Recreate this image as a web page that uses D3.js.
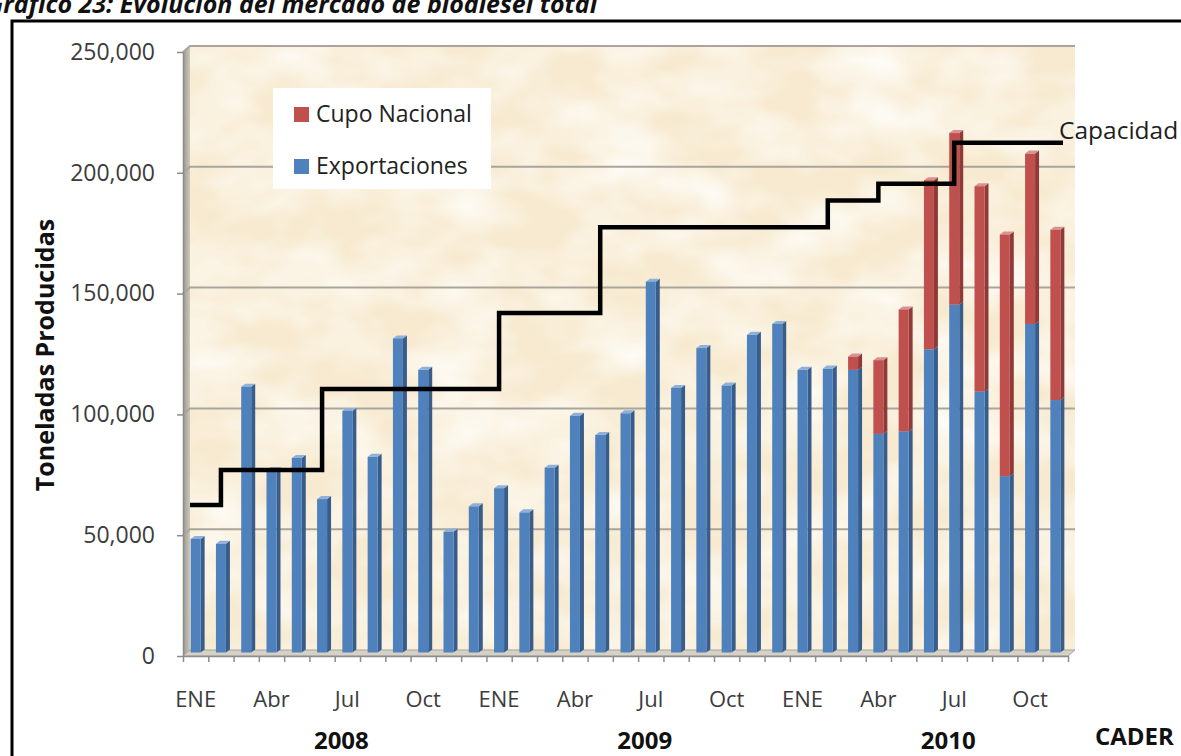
<!DOCTYPE html>
<html>
<head>
<meta charset="utf-8">
<script src="https://cdn.jsdelivr.net/npm/d3@7"></script>
<style>
  body { margin: 0; background: #ffffff; }
  svg { display: block; font-family: "Open Sans", sans-serif; }
</style>
</head>
<body>
<svg id="chart" width="1181" height="756"></svg>
<script>
// Evolucion del mercado de biodiesel total

// categories: Jan 2008 .. Nov 2010 (35 months)
const years = ['2008', '2009', '2010'];
const monthNames = ['ENE', 'Feb', 'Mar', 'Abr', 'May', 'Jun', 'Jul', 'Ago', 'Sep', 'Oct', 'Nov', 'Dic'];
const categories = years.flatMap(yr => monthNames.map(m => m + ' ' + yr)).slice(0, 35);

// tonnes
const exportaciones = [47000, 45000, 110000, 75500, 80500, 63500, 100000, 81000, 130000, 117000, 50000, 60500,
                       68000, 58000, 76500, 98000, 90000, 99000, 153500, 109500, 126000, 110500, 131500, 136000,
                       117000, 117500, 117000, 90500, 91500, 125500, 144000, 108000, 73000, 136000, 104500];
const cupoNacional  = [0, 0, 0, 0, 0, 0, 0, 0, 0, 0, 0, 0,
                       0, 0, 0, 0, 0, 0, 0, 0, 0, 0, 0, 0,
                       0, 0, 5500, 30500, 50500, 70000, 71000, 85000, 100000, 70500, 70500];
const capacidad     = [60000, 74500, 74500, 74500, 74500, 108000, 108000, 108000, 108000, 108000, 108000, 108000,
                       139500, 139500, 139500, 139500, 175000, 175000, 175000, 175000, 175000, 175000, 175000, 175000,
                       175000, 186000, 186000, 193000, 193000, 193000, 210000, 210000, 210000, 210000, 210000];

const yTicks = [0, 50000, 100000, 150000, 200000, 250000];
const monthTicks = ['ENE', 'Abr', 'Jul', 'Oct'];

// layout
const xLeft = 183, xRight = 1068, yTop = 52, yBottom = 656;
const back = { dx: 7, dy: -6 };      // back wall offset (3d look)
const barOff = { dx: 0, dy: -3.5 };  // bars sit a bit into the depth
const depth = { dx: 4, dy: -3 };     // bar thickness
const frontW = 10;

const colours = { blue: '#4F81BD', blueSide: '#385D8A', blueTop: '#8FB0DA',
                  red: '#C0504D', redSide: '#8E3A38', redTop: '#DA918F',
                  grid: '#A9A59C', axis: '#8C8C8C', text: '#3C3C3C' };

const svg = d3.select('#chart');
const defs = svg.append('defs');

// parchment texture for the back wall
const parch = defs.append('filter').attr('id', 'parch')
  .attr('x', 0).attr('y', 0).attr('width', '100%').attr('height', '100%');
parch.append('feTurbulence').attr('type', 'fractalNoise').attr('baseFrequency', '0.012 0.02')
  .attr('numOctaves', 3).attr('seed', 7).attr('result', 'noise');
parch.append('feColorMatrix').attr('in', 'noise').attr('type', 'matrix')
  .attr('values', '0 0 0 0 0.995  0 0 0 0 0.98  0 0 0 0 0.94  1.8 0 0 0 -0.6');

const wallGrad = defs.append('linearGradient').attr('id', 'wallGrad')
  .attr('x1', 0).attr('x2', 1).attr('y1', 0).attr('y2', 0);
wallGrad.append('stop').attr('offset', '0%').attr('stop-color', '#9C988D');
wallGrad.append('stop').attr('offset', '100%').attr('stop-color', '#CDC8BC');

const x = d3.scaleBand().domain(categories).range([xLeft, xRight]);
const xIdx = d3.scaleLinear().domain([0, categories.length]).range([xLeft, xRight]);
const y = d3.scaleLinear().domain([0, 250000]).range([yBottom, yTop]);
const yBack = v => y(v) + back.dy;
const yBar = v => y(v) + barOff.dy;
const bw = x.bandwidth();

// title (cut at the top of the page)
svg.append('text')
  .attr('x', -14).attr('y', 13)
  .style('font-size', '25px').style('font-weight', 700).style('font-style', 'italic')
  .attr('fill', '#111')
  .text('Gráfico 23: Evolución del mercado de biodiesel total');

// frame
svg.append('rect')
  .attr('x', 12).attr('y', 21).attr('width', 1300).attr('height', 900)
  .attr('fill', 'none').attr('stroke', '#000').attr('stroke-width', 3);

// back wall
svg.append('rect')
  .attr('x', xLeft + back.dx).attr('y', yBack(250000))
  .attr('width', xRight - xLeft).attr('height', yBack(0) - yBack(250000))
  .attr('fill', '#F7EAD0');
svg.append('rect')
  .attr('x', xLeft + back.dx).attr('y', yBack(250000))
  .attr('width', xRight - xLeft).attr('height', yBack(0) - yBack(250000))
  .attr('filter', 'url(#parch)');

// left wall
svg.append('polygon')
  .attr('points', [[xLeft, y(250000)], [xLeft + back.dx, yBack(250000)],
                   [xLeft + back.dx, yBack(0)], [xLeft, y(0)]].join(' '))
  .attr('fill', 'url(#wallGrad)');

// floor
svg.append('polygon')
  .attr('points', [[xLeft, y(0)], [xLeft + back.dx, yBack(0)],
                   [xRight + back.dx, yBack(0)], [xRight, y(0)]].join(' '))
  .attr('fill', '#D6D1C6').attr('stroke', '#A8A398').attr('stroke-width', 1);

// gridlines
svg.append('g').selectAll('path')
  .data(yTicks.filter(v => v > 0))
  .enter()
  .append('path')
  .attr('d', v => 'M' + xLeft + ',' + y(v) + 'L' + (xLeft + back.dx) + ',' + yBack(v) +
                  'H' + (xRight + back.dx))
  .attr('fill', 'none').attr('stroke', colours.grid).attr('stroke-width', 2);

// y axis
const yAxisG = svg.append('g')
  .attr('transform', 'translate(' + xLeft + ',0)')
  .call(d3.axisLeft(y).tickValues(yTicks).tickFormat(d3.format(','))
          .tickSize(6).tickSizeOuter(0).tickPadding(22));
yAxisG.attr('font-family', '"Open Sans", sans-serif').attr('font-size', 23);
yAxisG.select('.domain').attr('stroke', colours.axis).attr('stroke-width', 1.5);
yAxisG.selectAll('.tick line').attr('stroke', colours.axis).attr('stroke-width', 1.5);
yAxisG.selectAll('.tick text').attr('fill', colours.text);

// x axis: ticks at month boundaries
const xTickG = svg.append('g')
  .attr('transform', 'translate(0,' + yBottom + ')')
  .call(d3.axisBottom(xIdx).tickValues(d3.range(categories.length + 1)).tickFormat('')
          .tickSize(6).tickSizeOuter(0));
xTickG.select('.domain').attr('stroke', colours.axis).attr('stroke-width', 1.5);
xTickG.selectAll('.tick line').attr('stroke', colours.axis).attr('stroke-width', 1.5);

// x axis: month labels
const xLabG = svg.append('g')
  .attr('transform', 'translate(0,' + yBottom + ')')
  .call(d3.axisBottom(x)
          .tickValues(categories.filter(c => monthTicks.includes(c.split(' ')[0])))
          .tickFormat(c => c.split(' ')[0])
          .tickSize(0).tickPadding(35));
xLabG.attr('font-family', '"Open Sans", sans-serif').attr('font-size', 22);
xLabG.select('.domain').remove();
xLabG.selectAll('.tick text').attr('fill', colours.text);

// stacked 3d columns
const rows = categories.map((c, i) => ({ cat: c, exportaciones: exportaciones[i], cupo: cupoNacional[i] }));
const series = d3.stack().keys(['exportaciones', 'cupo'])(rows);
const faces = { exportaciones: [colours.blue, colours.blueSide, colours.blueTop],
                cupo: [colours.red, colours.redSide, colours.redTop] };

const layers = svg.append('g').selectAll('g')
  .data(series)
  .enter()
  .append('g');

const bars = layers.selectAll('g')
  .data(s => s.filter(d => d[1] > d[0]).map(d => ({ d: d, key: s.key })))
  .enter()
  .append('g');

function x0(o) { return x(o.d.data.cat) + bw / 2 - frontW / 2 + barOff.dx; }

bars.append('polygon')   // side
  .attr('points', o => {
    const xa = x0(o) + frontW, yt = yBar(o.d[1]), yb = yBar(o.d[0]);
    return [[xa, yb], [xa + depth.dx, yb + depth.dy], [xa + depth.dx, yt + depth.dy], [xa, yt]].join(' ');
  })
  .attr('fill', o => faces[o.key][1]);

bars.append('polygon')   // top
  .attr('points', o => {
    const xa = x0(o), yt = yBar(o.d[1]);
    return [[xa, yt], [xa + depth.dx, yt + depth.dy], [xa + frontW + depth.dx, yt + depth.dy], [xa + frontW, yt]].join(' ');
  })
  .attr('fill', o => faces[o.key][2]);

bars.append('rect')      // front
  .attr('x', o => x0(o))
  .attr('y', o => yBar(o.d[1]))
  .attr('width', frontW)
  .attr('height', o => yBar(o.d[0]) - yBar(o.d[1]))
  .attr('fill', o => faces[o.key][0]);

// capacity step line
const capPts = [[xLeft + back.dx, capacidad[0]]]
  .concat(categories.map((c, i) => [x(c) + bw / 2, capacidad[i]]))
  .concat([[xRight - 5, capacidad[capacidad.length - 1]]]);

svg.append('path')
  .datum(capPts)
  .attr('d', d3.line().x(p => p[0]).y(p => yBack(p[1])).curve(d3.curveStepAfter))
  .attr('fill', 'none').attr('stroke', '#000').attr('stroke-width', 4.5)
  .attr('stroke-linejoin', 'miter');

svg.append('text')
  .attr('x', xRight - 9).attr('y', yBack(capacidad[capacidad.length - 1]) - 4)
  .style('font-size', '24.5px').attr('fill', '#1E1E1E')
  .text('Capacidad');

// legend
const legend = svg.append('g').attr('transform', 'translate(273,88)');
legend.append('rect').attr('width', 218).attr('height', 101).attr('fill', '#ffffff');
const legendItems = [{ label: 'Cupo Nacional', colour: colours.red },
                     { label: 'Exportaciones', colour: colours.blue }];
const li = legend.selectAll('g.item')
  .data(legendItems)
  .enter()
  .append('g')
  .attr('class', 'item')
  .attr('transform', (d, i) => 'translate(21,' + (19 + i * 52) + ')');
li.append('rect').attr('width', 15).attr('height', 15).attr('fill', d => d.colour);
li.append('text').attr('x', 22).attr('y', 15)
  .style('font-size', '23px').attr('fill', '#222')
  .text(d => d.label);

// axis title
svg.append('text')
  .attr('transform', 'translate(54,355) rotate(-90)')
  .attr('text-anchor', 'middle')
  .style('font-size', '25px').style('font-weight', 700).attr('fill', '#111')
  .text('Toneladas Producidas');

// year labels
svg.append('g').selectAll('text')
  .data(years)
  .enter()
  .append('text')
  .attr('x', yr => x('Jul ' + yr) + bw / 2 - 6)
  .attr('y', 749)
  .attr('text-anchor', 'middle')
  .style('font-size', '24px').style('font-weight', 700).attr('fill', '#111')
  .text(yr => yr);

svg.append('text')
  .attr('x', 1095).attr('y', 745)
  .style('font-size', '24px').style('font-weight', 700).attr('fill', '#111')
  .text('CADER');
</script>
</body>
</html>
